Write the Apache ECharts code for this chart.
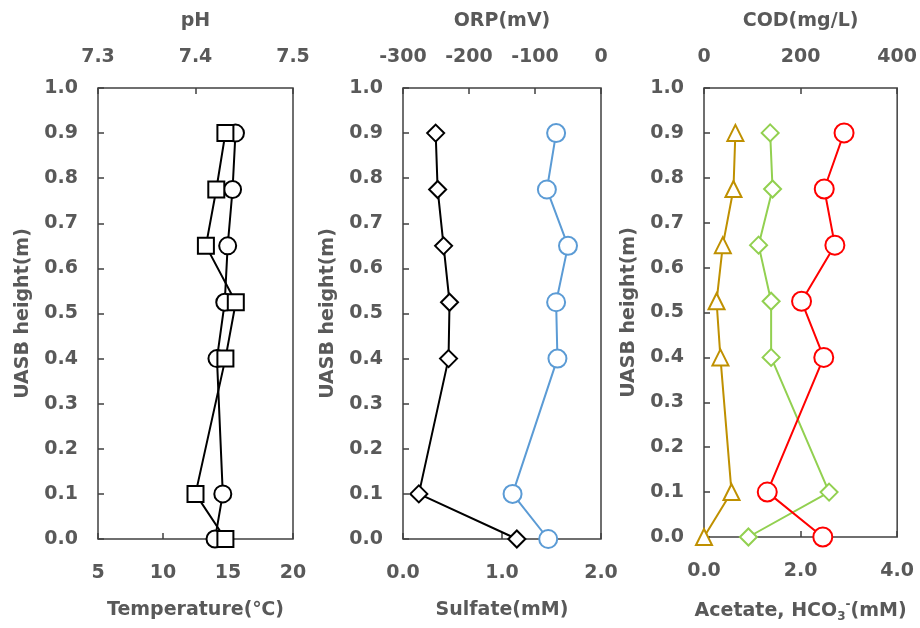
<!DOCTYPE html>
<html>
<head>
<meta charset="utf-8">
<script src="https://cdn.jsdelivr.net/npm/echarts@6/dist/echarts.min.js"></script>
<style>html,body{margin:0;padding:0;background:#fff;}#c{width:920px;height:628px;}</style>
</head>
<body>
<div id="c"></div>
<script>
const heights = [0.9, 0.775, 0.65, 0.525, 0.4, 0.1, 0.0];
const phValues = [7.441, 7.438, 7.433, 7.430, 7.422, 7.428, 7.420];
const temperatureValues = [14.8, 14.1, 13.3, 15.6, 14.8, 12.5, 14.8];
const sulfateValues = [0.33, 0.35, 0.41, 0.47, 0.46, 0.16, 1.15];
const orpValues = [-68, -82, -50, -68, -66, -134, -80];
const acetateValues = [0.65, 0.61, 0.39, 0.26, 0.34, 0.57, 0.0];
const hco3Values = [1.37, 1.42, 1.13, 1.39, 1.39, 2.59, 0.92];
const codValues = [290, 249, 271, 202, 248, 131, 246];

const yTicks = [0.0, 0.1, 0.2, 0.3, 0.4, 0.5, 0.6, 0.7, 0.8, 0.9, 1.0];

const TXT = '#595959';
const LINE = '#404040';
const FONT = 'DejaVu Sans';
const FS = 19;

function pairs(xs) { return xs.map((v, i) => [v, heights[i]]); }

const chart = echarts.init(document.getElementById('c'));

const grids = [
  {left: 98, top: 88, width: 195, height: 451},
  {left: 403, top: 88, width: 198, height: 451},
  {left: 704, top: 88, width: 196, height: 451}
].map(g => Object.assign(g, {show: true, borderColor: LINE, borderWidth: 1.5, backgroundColor: 'transparent'}));

function xAxis(gi, pos, name, min, max, interval, dec) {
  return {
    type: 'value', gridIndex: gi, position: pos, min, max, interval,
    name, nameLocation: 'middle', nameGap: pos === 'bottom' ? 62 : 57,
    nameTextStyle: {color: TXT, fontFamily: FONT, fontWeight: 'bold', fontSize: FS,
      rich: {
        a: {color: TXT, fontFamily: FONT, fontWeight: 'bold', fontSize: FS, lineHeight: 24},
        sub: {color: TXT, fontFamily: FONT, fontWeight: 'bold', fontSize: 12, verticalAlign: 'bottom', lineHeight: 14},
        sup: {color: TXT, fontFamily: FONT, fontWeight: 'bold', fontSize: 12, verticalAlign: 'top', lineHeight: 14}
      }},
    axisLine: {show: false},
    axisTick: {show: true, inside: true, length: 6, lineStyle: {color: LINE, width: 1.5}},
    splitLine: {show: false},
    axisLabel: {color: TXT, fontFamily: FONT, fontWeight: 'bold', fontSize: FS, margin: pos === 'bottom' ? 25 : 21,
      formatter: v => dec ? v.toFixed(dec) : String(Math.round(v))}
  };
}
function yAxis(gi) {
  return {
    type: 'value', gridIndex: gi, min: yTicks[0], max: yTicks[yTicks.length - 1], interval: 0.1,
    name: 'UASB height(m)', nameLocation: 'middle', nameGap: 65,
    nameTextStyle: {color: TXT, fontFamily: FONT, fontWeight: 'bold', fontSize: FS},
    axisLine: {show: false},
    axisTick: {show: true, inside: true, length: 6, lineStyle: {color: LINE, width: 1.5}},
    splitLine: {show: false},
    axisLabel: {color: TXT, fontFamily: FONT, fontWeight: 'bold', fontSize: FS, margin: 20,
      formatter: v => v.toFixed(1)}
  };
}

function series(xi, yi, vals, symbol, size, color) {
  return {
    type: 'line', xAxisIndex: xi, yAxisIndex: yi, data: pairs(vals),
    symbol, symbolSize: size, showSymbol: true,
    lineStyle: {color, width: 2},
    itemStyle: {color: '#fff', borderColor: color, borderWidth: 2},
    z: 3
  };
}

chart.setOption({
  animation: false,
  backgroundColor: '#fff',
  grid: grids,
  xAxis: [
    xAxis(0, 'bottom', 'Temperature(℃)', 5, 20, 5, 0),
    xAxis(0, 'top', 'pH', 7.3, 7.5, 0.1, 1),
    xAxis(1, 'bottom', 'Sulfate(mM)', 0, 2, 1, 1),
    xAxis(1, 'top', 'ORP(mV)', -300, 0, 100, 0),
    xAxis(2, 'bottom', '{a|Acetate, HCO}{sub|3}{sup|-}{a|(mM)}', 0, 4, 2, 1),
    xAxis(2, 'top', 'COD(mg/L)', 0, 400, 200, 0)
  ],
  yAxis: [yAxis(0), yAxis(1), yAxis(2)],
  series: [
    series(1, 0, phValues, 'circle', 17, '#000'),
    series(0, 0, temperatureValues, 'rect', 16, '#000'),
    series(2, 1, sulfateValues, 'diamond', 17, '#000'),
    series(3, 1, orpValues, 'circle', 18, '#5B9BD5'),
    series(4, 2, acetateValues, 'triangle', 16, '#BF9000'),
    series(4, 2, hco3Values, 'diamond', 17, '#92D050'),
    series(5, 2, codValues, 'circle', 19, '#FF0000')
  ]
});
</script>
</body>
</html>
